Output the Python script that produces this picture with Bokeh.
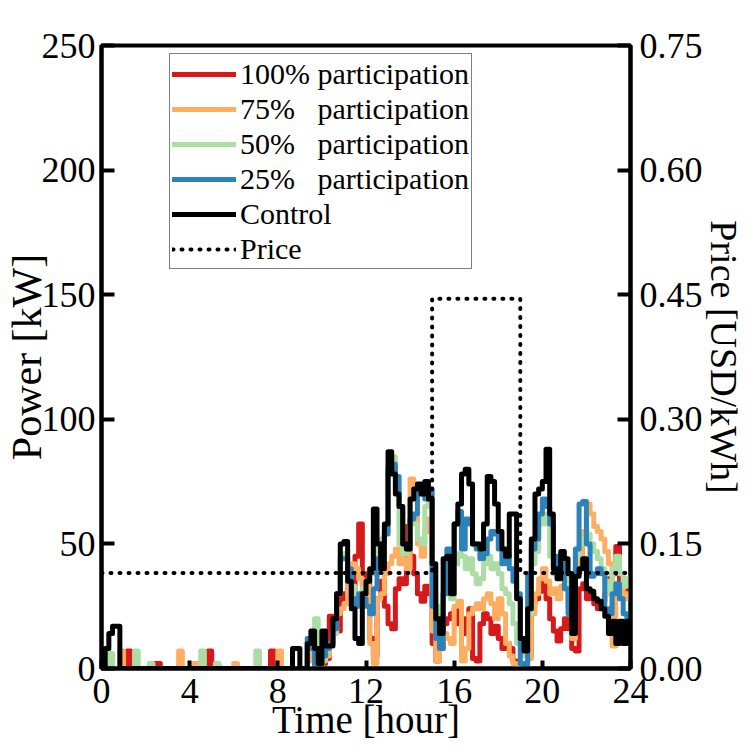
from bokeh.plotting import figure
from bokeh.models import (Range1d, LinearAxis, FixedTicker, Legend, LegendItem,
                          PrintfTickFormatter, ColumnDataSource)
from bokeh.embed import file_html
from bokeh.resources import INLINE

FONT = "Liberation Serif"

# Load profiles in kW, 10-minute resolution (six values per hour, 0h .. 23h)
control = [
    0, 8, 14, 17, 17, 0,
    0, 0, 0, 0, 0, 0,
    0, 0, 0, 0, 0, 0,
    0, 0, 0, 0, 0, 0,
    0, 0, 0, 0, 0, 0,
    0, 0, 0, 0, 0, 0,
    0, 0, 0, 0, 0, 0,
    0, 0, 0, 0, 0, 0,
    0, 0, 0, 0, 8, 8,
    0, 0, 10, 15, 8, 2,
    15, 9, 9, 20, 30, 50,
    51, 35, 24, 12, 10, 30,
    35, 40, 64, 50, 40, 58,
    87, 78, 70, 65, 50, 48,
    68, 72, 74, 70, 75, 68,
    42, 20, 14, 44, 45, 30,
    58, 66, 78, 80, 74, 50,
    50, 48, 58, 77, 75, 66,
    55, 48, 45, 62, 62, 28,
    12, 7, 24, 52, 70, 72,
    75, 88, 62, 40, 36, 47,
    44, 38, 14, 37, 40, 44,
    32, 31, 28, 27, 24, 21,
    14, 19, 10, 19, 10, 19,
]

part100 = [
    0, 0, 0, 0, 0, 0,
    0, 7, 0, 0, 0, 0,
    0, 0, 2, 2, 0, 0,
    0, 0, 0, 0, 0, 0,
    0, 0, 2, 0, 0, 7,
    1, 1, 0, 0, 0, 0,
    0, 0, 0, 0, 0, 0,
    0, 0, 0, 0, 7, 0,
    0, 0, 0, 0, 0, 0,
    0, 0, 0, 0, 0, 0,
    2, 4, 21, 20, 15, 28,
    30, 36, 28, 45, 58, 38,
    36, 12, 5, 28, 35, 25,
    18, 16, 32, 36, 34, 57,
    45, 38, 30, 27, 33, 30,
    10, 3, 8, 18, 20, 22,
    24, 18, 14, 20, 24, 4,
    3, 18, 22, 20, 14, 17,
    12, 8, 10, 8, 3, 2,
    0, 2, 5, 26, 28, 31,
    35, 28, 20, 15, 11, 16,
    20, 16, 8, 7, 32, 34,
    28, 30, 26, 24, 27, 30,
    36, 38, 49, 34, 31, 35,
]

part75 = [
    0, 0, 0, 0, 0, 7,
    0, 0, 0, 0, 0, 0,
    0, 0, 0, 0, 0, 0,
    0, 0, 0, 7, 0, 0,
    0, 2, 0, 0, 0, 0,
    0, 0, 0, 0, 0, 0,
    2, 0, 0, 0, 0, 0,
    0, 0, 0, 0, 0, 0,
    7, 0, 0, 0, 0, 0,
    0, 0, 3, 6, 2, 0,
    3, 5, 10, 15, 22, 24,
    26, 38, 42, 40, 36, 30,
    33, 10, 2, 28, 30, 38,
    42, 45, 48, 42, 44, 40,
    76, 72, 50, 45, 55, 60,
    15, 3, 10, 14, 12, 10,
    25, 27, 3, 8, 22, 24,
    26, 24, 28, 30, 26, 20,
    28, 22, 10, 5, 2, 0,
    0, 2, 4, 22, 30, 36,
    40, 35, 30, 32, 28, 33,
    32, 25, 12, 38, 45, 55,
    66, 62, 57, 55, 52, 47,
    42, 9, 30, 33, 28, 30,
]

part50 = [
    0, 0, 6, 0, 0, 0,
    0, 0, 0, 7, 0, 0,
    0, 2, 0, 0, 0, 0,
    0, 0, 0, 0, 0, 0,
    0, 0, 0, 7, 0, 0,
    0, 2, 0, 0, 0, 0,
    0, 0, 0, 0, 0, 0,
    7, 0, 0, 0, 0, 0,
    0, 0, 0, 0, 0, 0,
    0, 0, 0, 0, 20, 0,
    4, 7, 10, 14, 30, 45,
    46, 38, 33, 28, 30, 32,
    35, 38, 42, 50, 52, 55,
    83, 85, 72, 50, 46, 48,
    60, 58, 52, 50, 65, 68,
    30, 15, 25, 30, 32, 28,
    42, 46, 45, 40, 44, 38,
    34, 36, 42, 45, 40, 42,
    38, 32, 30, 26, 18, 10,
    5, 10, 22, 42, 47, 58,
    62, 58, 45, 38, 40, 38,
    36, 28, 19, 45, 50, 52,
    54, 50, 47, 44, 40, 35,
    30, 40, 45, 38, 33, 36,
]

part25 = [
    0, 0, 0, 0, 0, 0,
    0, 0, 0, 0, 0, 0,
    0, 0, 0, 0, 0, 0,
    0, 0, 0, 0, 0, 0,
    0, 0, 0, 0, 0, 0,
    0, 0, 0, 0, 0, 0,
    0, 0, 0, 0, 0, 0,
    0, 0, 0, 0, 0, 0,
    0, 0, 0, 0, 0, 0,
    0, 0, 12, 8, 0, 0,
    5, 8, 10, 16, 30, 44,
    44, 40, 28, 25, 30, 28,
    25, 22, 32, 44, 50, 54,
    80, 82, 77, 65, 50, 48,
    60, 62, 72, 70, 68, 72,
    25, 12, 8, 30, 48, 42,
    58, 63, 48, 60, 58, 50,
    48, 44, 46, 52, 55, 54,
    48, 42, 45, 40, 35, 30,
    2, 1, 38, 48, 52, 62,
    68, 65, 58, 45, 38, 42,
    32, 22, 18, 48, 66, 67,
    50, 37, 38, 40, 38, 24,
    22, 30, 34, 28, 22, 18,
]

# Hourly electricity tariff in USD/kWh
price = [0.115] * 15 + [0.445] * 4 + [0.115] * 5

power_ticks = [0, 50, 100, 150, 200, 250]
price_ticks = [0.0, 0.15, 0.30, 0.45, 0.60, 0.75]
hour_ticks = [0, 4, 8, 12, 16, 20, 24]

series = [
    ("100% participation", part100, "#d7191c"),
    ("75%\u00a0\u00a0\u00a0participation", part75, "#fdae61"),
    ("50%\u00a0\u00a0\u00a0participation", part50, "#abdda4"),
    ("25%\u00a0\u00a0\u00a0participation", part25, "#2b83ba"),
    ("Control", control, "#000000"),
]

steps = len(control)
t = [i / 6 for i in range(steps + 1)]
t_hour = list(range(len(price) + 1))

p = figure(width=750, height=750, output_backend="svg", toolbar_location=None,
           x_range=Range1d(0, 24), y_range=Range1d(0, 250),
           min_border_left=101, min_border_right=120,
           min_border_top=45, min_border_bottom=82)
p.extra_y_ranges = {"price": Range1d(0, 0.75)}
p.xgrid.visible = False
p.ygrid.visible = False
p.outline_line_color = "black"
p.outline_line_width = 4
p.outline_line_alpha = 1
p.background_fill_color = "white"
p.border_fill_color = "white"

items = []
for name, vals, color in series:
    src = ColumnDataSource(dict(t=t, v=vals + [vals[-1]]))
    r = p.step("t", "v", source=src, mode="after", line_color=color,
               line_width=5, line_join="round", line_cap="round")
    items.append(LegendItem(label=name, renderers=[r]))

psrc = ColumnDataSource(dict(t=t_hour, v=price + [price[-1]]))
rp = p.step("t", "v", source=psrc, mode="after", y_range_name="price",
            line_color="black", line_width=4, line_dash="1 8", line_cap="round")
items.append(LegendItem(label="Price", renderers=[rp]))


def style_axis(ax, tick_in, label_size):
    ax.axis_line_width = 4
    ax.axis_line_color = "black"
    ax.major_tick_line_width = 4
    ax.major_tick_line_color = "black"
    ax.major_tick_in = tick_in
    ax.major_tick_out = 0
    ax.minor_tick_line_color = None
    ax.major_label_text_font = FONT
    ax.major_label_text_font_size = "36px"
    ax.major_label_text_color = "black"
    ax.axis_label_text_font = FONT
    ax.axis_label_text_font_size = label_size
    ax.axis_label_text_font_style = "normal"
    ax.axis_label_text_color = "black"


xa = p.xaxis[0]
xa.ticker = FixedTicker(ticks=hour_ticks)
xa.axis_label = "Time [hour]"
style_axis(xa, 8, "39px")
xa.major_label_standoff = 10
xa.axis_label_standoff = -8

ya = p.yaxis[0]
ya.ticker = FixedTicker(ticks=power_ticks)
ya.axis_label = "Power [kW]"
style_axis(ya, 13, "42px")
ya.major_label_standoff = 6
ya.axis_label_standoff = -11

ra = LinearAxis(y_range_name="price", ticker=FixedTicker(ticks=price_ticks),
                formatter=PrintfTickFormatter(format="%.2f"),
                axis_label="Price [USD/kWh]")
style_axis(ra, 13, "38px")
ra.major_label_standoff = 9
ra.axis_label_standoff = -3
p.add_layout(ra, "right")

legend = Legend(items=items, location=(68, 399))
legend.label_text_font = FONT
legend.label_text_font_size = "30px"
legend.label_text_color = "black"
legend.glyph_width = 64
legend.glyph_height = 20
legend.label_height = 35
legend.label_standoff = 4
legend.spacing = 0
legend.padding = 2
legend.margin = 0
legend.border_line_color = "black"
legend.border_line_width = 1.5
legend.background_fill_alpha = 1
p.add_layout(legend, "center")

open("out.html", "w").write(file_html(p, INLINE))
